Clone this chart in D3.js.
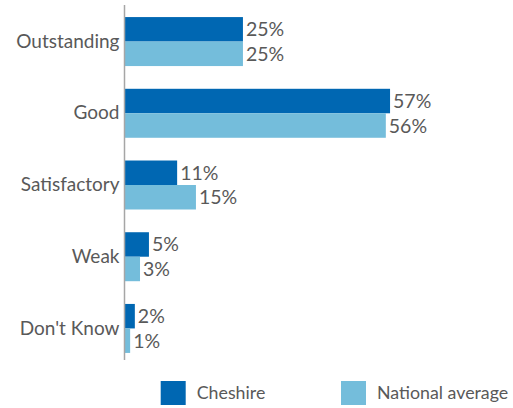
<!DOCTYPE html>
<html>
<head>
<meta charset="utf-8">
<script src="https://cdn.jsdelivr.net/npm/d3@7"></script>
<style>
  body { margin: 0; background: #fff; }
  text { font-family: Lato, "Open Sans", sans-serif; fill: #595959; }
</style>
</head>
<body>
<div id="chart"></div>
<script>
// categories and series
const categories = ["Outstanding", "Good", "Satisfactory", "Weak", "Don't Know"];
const seriesNames = ["Cheshire", "National average"];
const cheshire = [25.2, 56.5, 11.2, 5.2, 2.2];
const national = [25.2, 55.6, 15.2, 3.3, 1.2];
const colors = ["#0067b2", "#74bddb"];

const width = 513, height = 408;
const axisX = 124.5;

const svg = d3.select("#chart").append("svg")
    .attr("width", width)
    .attr("height", height);

// scales
const x = d3.scaleLinear().domain([0, 60]).range([axisX, axisX + 282]);
const y = d3.scaleBand().domain(categories).range([5.6, 364.4])
    .paddingInner(0.317).paddingOuter(0.16);
const ySub = d3.scaleBand().domain(seriesNames).range([0, y.bandwidth()]);

const rows = categories.map((c, i) => ({cat: c, vals: [cheshire[i], national[i]]}));

const groups = svg.selectAll("g.row")
    .data(rows)
  .enter().append("g")
    .attr("class", "row")
    .attr("transform", d => "translate(0," + y(d.cat) + ")");

groups.selectAll("rect")
    .data(d => d.vals.map((v, j) => ({name: seriesNames[j], v: v, j: j})))
  .enter().append("rect")
    .attr("x", x(0))
    .attr("y", d => ySub(d.name))
    .attr("width", d => x(d.v) - x(0))
    .attr("height", ySub.bandwidth())
    .attr("fill", d => colors[d.j]);

groups.selectAll("text.val")
    .data(d => d.vals.map((v, j) => ({name: seriesNames[j], v: v})))
  .enter().append("text")
    .attr("class", "val")
    .attr("x", d => x(d.v) + 3)
    .attr("y", d => ySub(d.name) + ySub.bandwidth() / 2)
    .attr("dy", "0.36em")
    .attr("font-size", 19.5)
    .text(d => Math.round(d.v) + "%");

// category axis
const yAxis = svg.append("g")
    .attr("transform", "translate(" + axisX + ",0)")
    .call(d3.axisLeft(y).tickSize(0).tickPadding(5));
yAxis.select(".domain").remove();
yAxis.selectAll("text")
    .attr("font-size", 19)
    .attr("fill", "#595959")
    .attr("font-family", "Lato, 'Open Sans', sans-serif");

svg.append("line")
    .attr("x1", axisX).attr("x2", axisX)
    .attr("y1", 5).attr("y2", 360)
    .attr("stroke", "#a6a6a6")
    .attr("stroke-width", 1.5);

// legend
const legendX = [160.7, 341];
const legend = svg.selectAll("g.legend")
    .data(seriesNames)
  .enter().append("g")
    .attr("class", "legend")
    .attr("transform", (d, i) => "translate(" + legendX[i] + ",381)");
legend.append("rect")
    .attr("width", 25).attr("height", 24)
    .attr("fill", (d, i) => colors[i]);
legend.append("text")
    .attr("x", 36).attr("y", 12)
    .attr("dy", "0.36em")
    .attr("font-size", 17.8)
    .text(d => d);
</script>
</body>
</html>
